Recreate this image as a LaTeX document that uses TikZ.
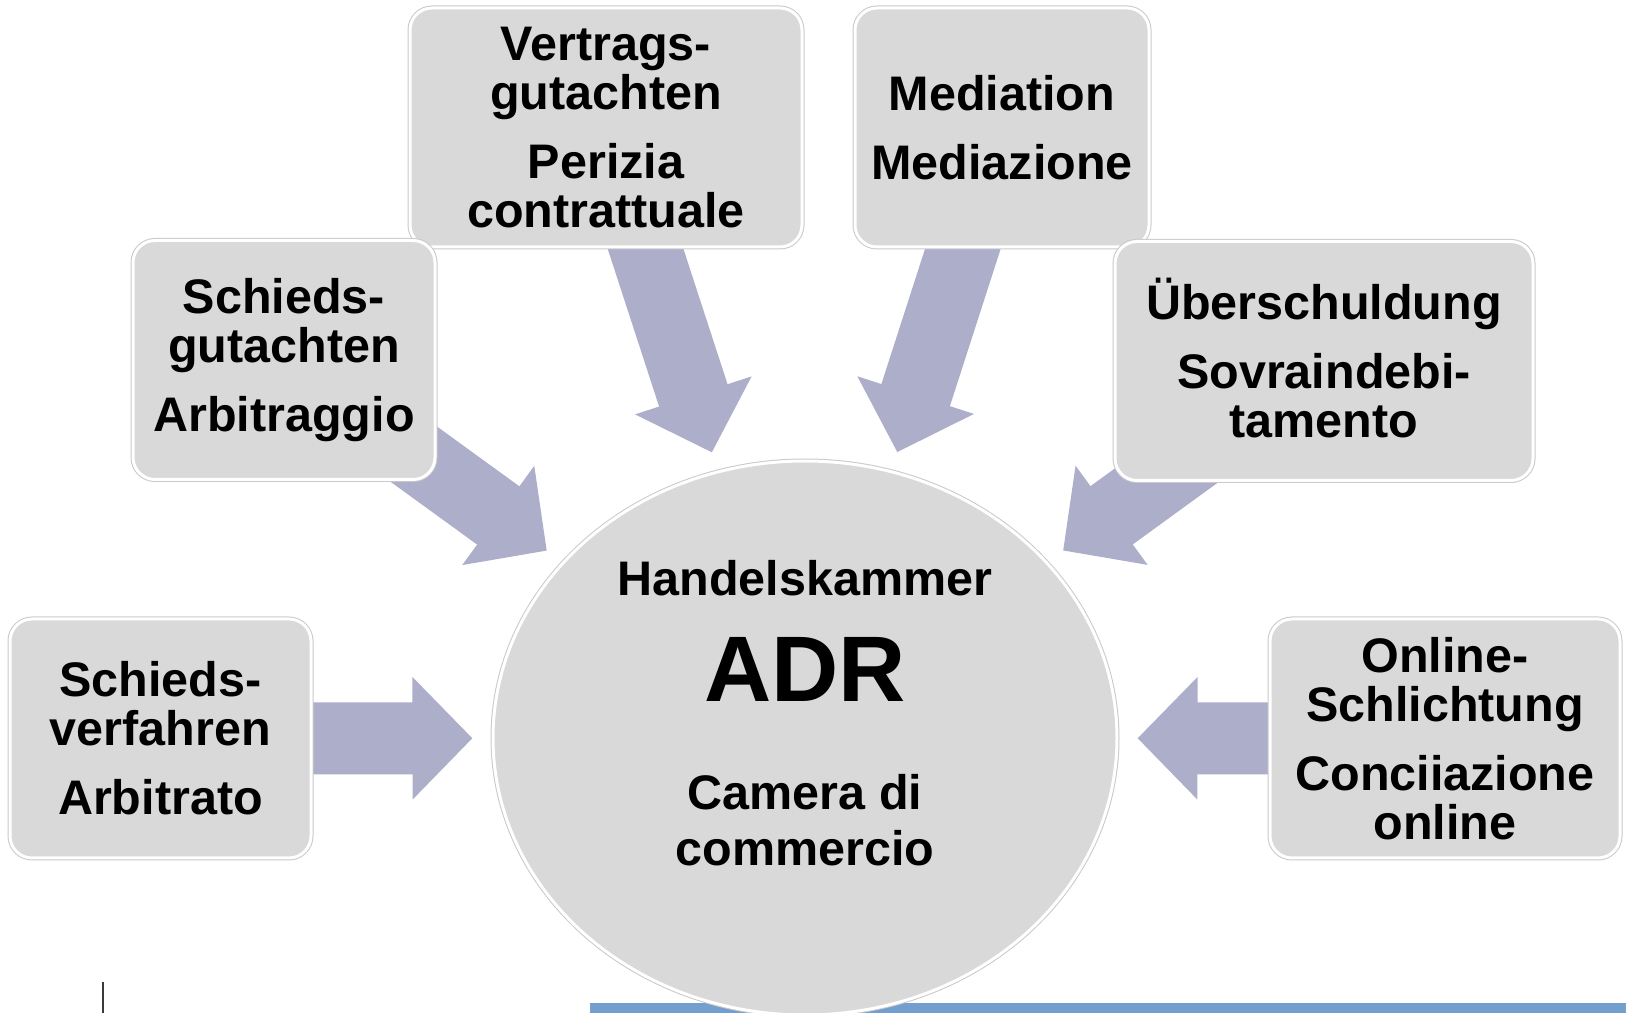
\documentclass[tikz,border=0pt]{standalone}
\usepackage{fontspec}
\setmainfont{Liberation Sans}
\usetikzlibrary{arrows.meta,backgrounds,shapes.geometric}
\definecolor{AdrGrey}{HTML}{D9D9D9}
\definecolor{AdrRim}{HTML}{C9C9C9}
\definecolor{AdrArrow}{HTML}{ADAECA}
\definecolor{AdrBlue}{HTML}{729FCF}
\definecolor{AdrMark}{HTML}{3A3A3A}

\begin{document}
\begin{tikzpicture}[
    x=0.1mm, y=-0.1mm,
    font=\fontsize{13.8pt}{14pt}\selectfont\bfseries,
    topicbox/.style={fill=AdrGrey, draw=white, line width=0.3mm, rounded corners=2.2mm, preaction={draw=AdrRim, line width=0.5mm}, align=center, inner sep=0pt, minimum height=23.9mm},
    hub/.style={ellipse, fill=AdrGrey, draw=white, line width=0.3mm, preaction={draw=AdrRim, line width=0.5mm}, minimum width=62.4mm, minimum height=55.4mm, inner sep=0pt},
    hubtext/.style={align=center, inner sep=0pt},
    flow/.style={AdrArrow, line width=7.2mm, -{Triangle[width=11.9mm,length=6mm]}, shorten >=1.9mm}
  ]
    \useasboundingbox (0,0) rectangle (1626,1013);
    \fill[AdrBlue] (590,1003) rectangle (1626,1013);
    \draw[AdrMark, line width=0.15mm] (103,982) -- (103,1013);

    \node[hub] (adr) at (805,738) {};
    \node[hubtext] (hk) at (805,578) {Handelskammer};
    \node[hubtext, font=\fontsize{26.5pt}{28pt}\selectfont\bfseries] (adrtitle) at (805,669) {ADR};
    \node[hubtext] (cdc) at (805,820) {Camera di\\[2pt]commercio};

    \node[topicbox, minimum width=39.2mm] (vertrags) at (606,127.5) {Vertrags-\\gutachten\\[5.6pt]Perizia\\contrattuale};
    \node[topicbox, minimum width=29.4mm] (mediation) at (1002,127.5) {Mediation\\[5.6pt]Mediazione};
    \node[topicbox, minimum width=30.2mm] (gutachten) at (284,360) {Schieds-\\gutachten\\[5.6pt]Arbitraggio};
    \node[topicbox, minimum width=41.8mm] (ueber) at (1324,361) {\smash{Ü}berschuldung\\[5.6pt]Sovraindebi-\\tamento};
    \node[topicbox, minimum width=30.1mm] (verfahren) at (160.5,738.5) {Schieds-\\verfahren\\[5.6pt]Arbitrato};
    \node[topicbox, minimum width=35mm] (online) at (1445,738.5) {Online-\\Schlichtung\\[5.6pt]Conciiazione\\online};

    \begin{scope}[on background layer]
      \draw[flow] (verfahren.center) -- (adr);
      \draw[flow] (gutachten.center) -- (adr);
      \draw[flow] (vertrags.center) -- (adr);
      \draw[flow] (mediation.center) -- (adr);
      \draw[flow] (ueber.center) -- (adr);
      \draw[flow] (online.center) -- (adr);
    \end{scope}
  \end{tikzpicture}
\end{document}
